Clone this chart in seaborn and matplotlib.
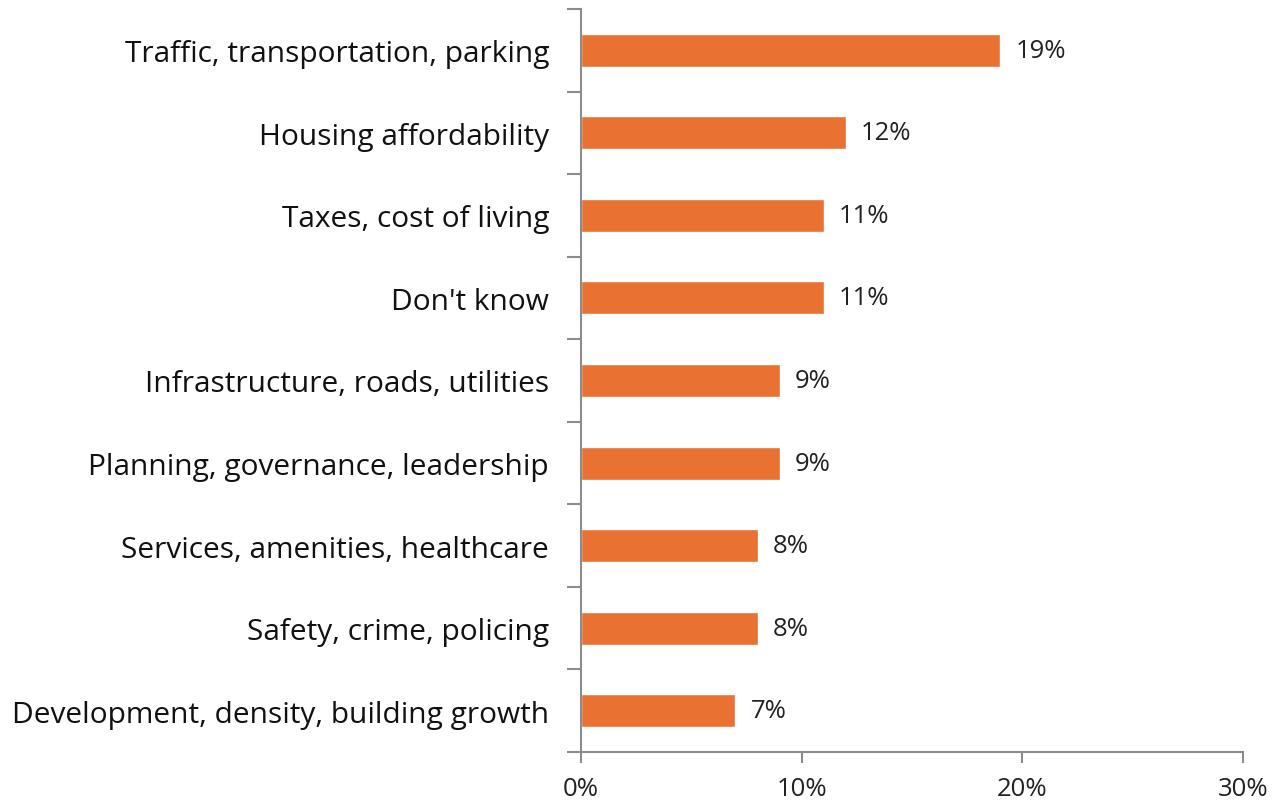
import matplotlib
matplotlib.use("Agg")
import matplotlib.pyplot as plt
import seaborn as sns
import pandas as pd
from matplotlib.ticker import FixedLocator, PercentFormatter

categories = [
    "Traffic, transportation, parking",
    "Housing affordability",
    "Taxes, cost of living",
    "Don't know",
    "Infrastructure, roads, utilities",
    "Planning, governance, leadership",
    "Services, amenities, healthcare",
    "Safety, crime, policing",
    "Development, density, building growth",
]
values = [19, 12, 11, 11, 9, 9, 8, 8, 7]
x_ticks = [0, 10, 20, 30]

sns.set_theme(style="white")
plt.rcParams['font.family'] = ['Open Sans', 'DejaVu Sans']

df = pd.DataFrame({"cat": categories, "val": values})

fig = plt.figure(figsize=(12.74, 8.03), dpi=100)
ax = fig.add_axes([581/1274, 1-753/803, (1243-581)/1274, (753-10)/803])

sns.barplot(data=df, x="val", y="cat", orient="h", color="#E97132",
            width=0.4, saturation=1, ax=ax)

ax.set_xlim(0, 30)
ax.set_ylim(len(categories)-0.5, -0.5)
ax.set_xlabel("")
ax.set_ylabel("")
ax.xaxis.set_major_locator(FixedLocator(x_ticks))
ax.xaxis.set_major_formatter(PercentFormatter(decimals=0))

spine_col = "#8c8c8c"
for s in ["top", "right"]:
    ax.spines[s].set_visible(False)
for s in ["left", "bottom"]:
    ax.spines[s].set_color(spine_col)
    ax.spines[s].set_linewidth(1.5)

ax.tick_params(axis="x", which="major", direction="out", length=8, width=1.5,
               color=spine_col, labelsize=18.5, labelcolor="#222222", pad=9, bottom=True)
ax.tick_params(axis="y", which="major", length=0, labelsize=21.5, labelcolor="#111111", pad=23)
ax.yaxis.set_minor_locator(FixedLocator([i - 0.5 for i in range(len(categories)+1)]))
ax.tick_params(axis="y", which="minor", direction="out", length=10, width=1.5,
               color=spine_col, left=True)

for c in ax.containers:
    ax.bar_label(c, labels=[f"{v}%" for v in values], padding=11, fontsize=18.5, color="#222222")

fig.savefig("out.png", dpi=100)
